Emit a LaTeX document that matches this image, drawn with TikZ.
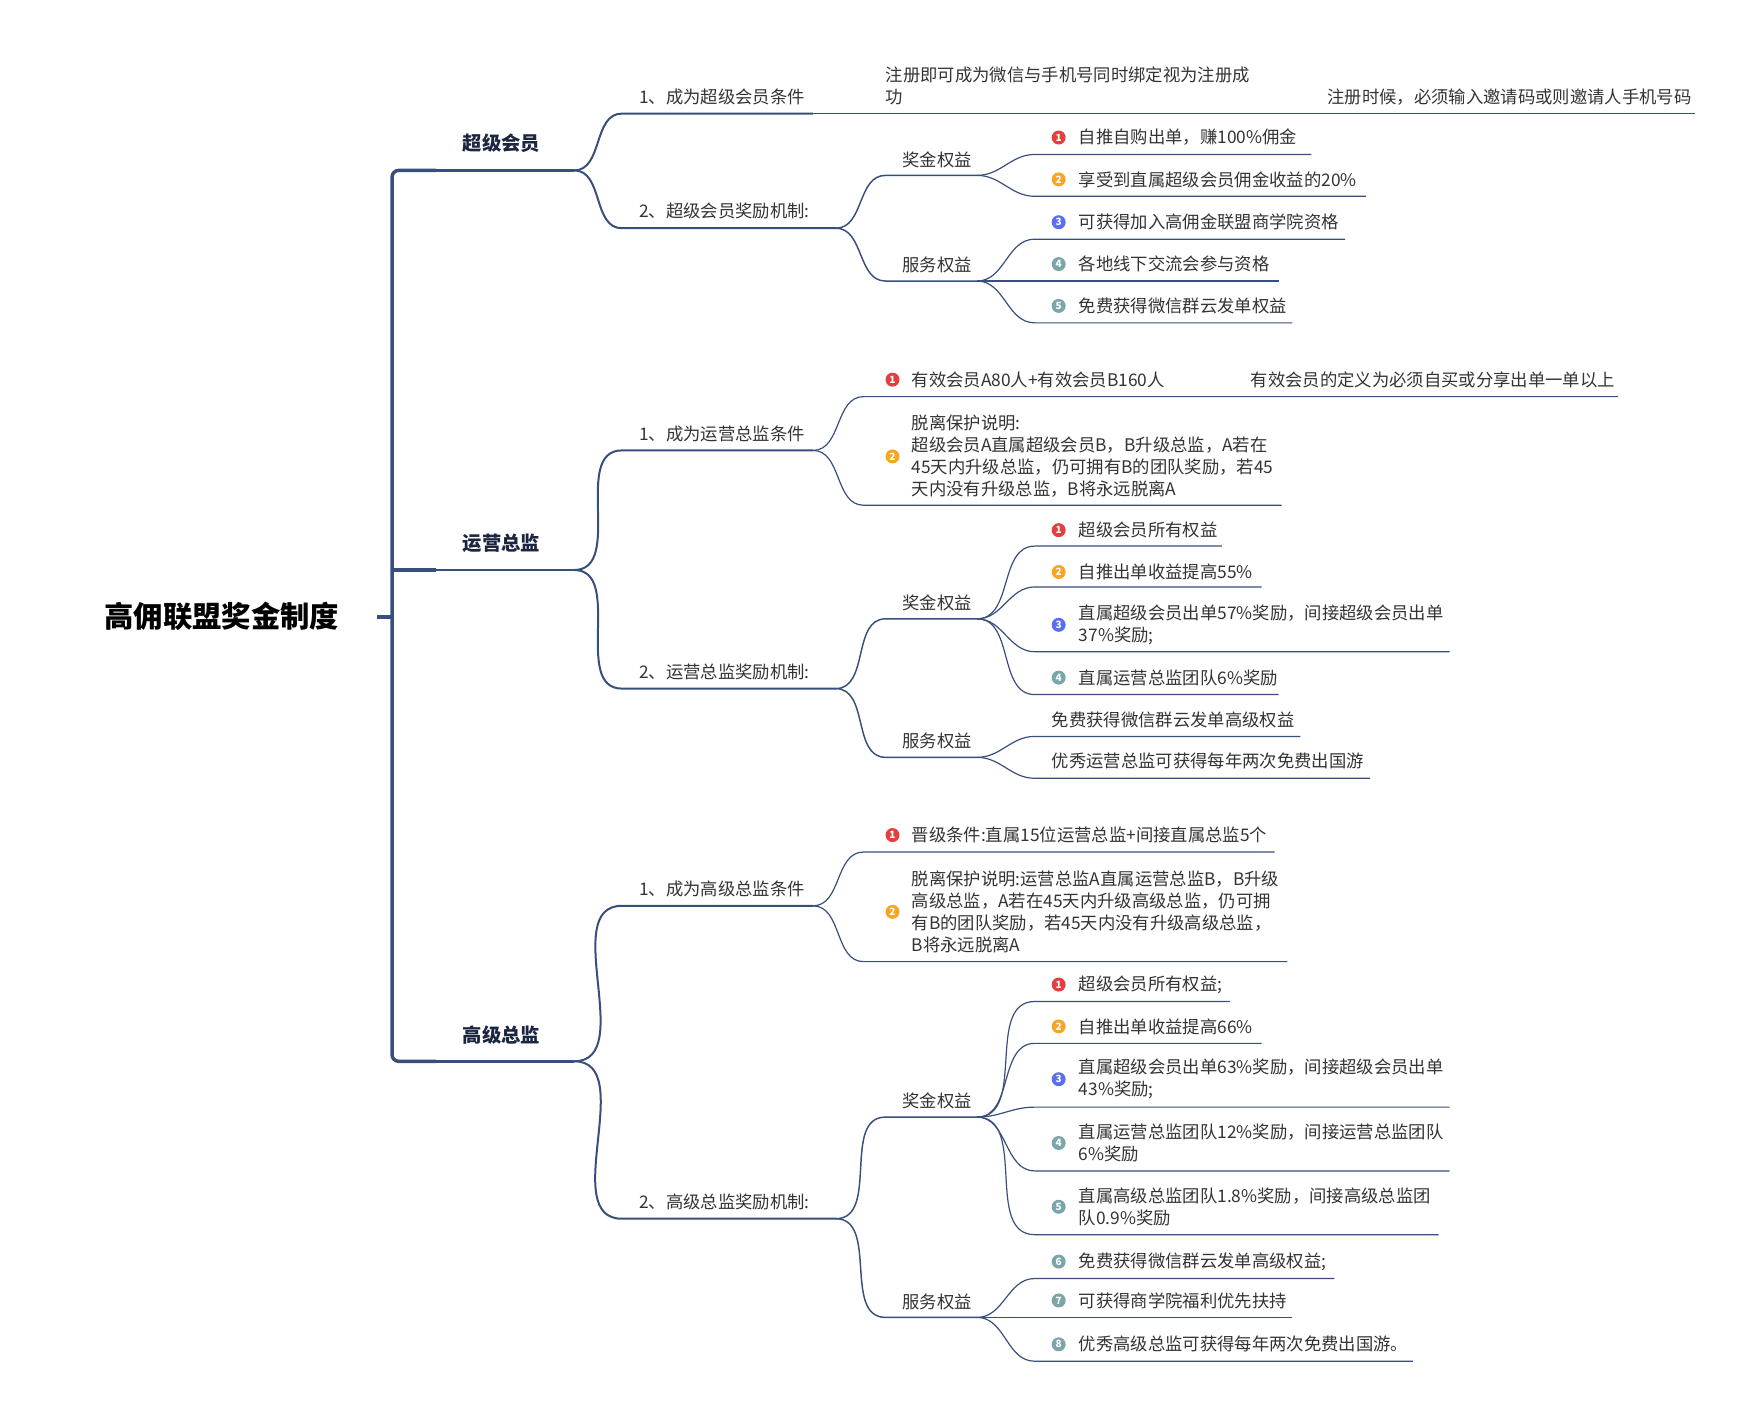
\documentclass[tikz,border=0pt]{standalone}
\usepackage{fontspec}
\setmainfont{Noto Sans CJK SC}
\usepackage{tikz}

\definecolor{linenavy}{RGB}{56,79,124}
\definecolor{textgray}{RGB}{51,51,51}
\definecolor{topicnavy}{RGB}{28,38,64}
\definecolor{dotred}{RGB}{229,62,62}
\definecolor{dotorange}{RGB}{245,166,35}
\definecolor{dotblue}{RGB}{90,110,240}
\definecolor{dotteal}{RGB}{122,166,170}

\tikzset{
  trunkline/.style={draw=linenavy, line width=2.6pt},
  lvone/.style={draw=linenavy, line width=1.9pt},
  lvtwo/.style={draw=linenavy, line width=1.5pt},
  lvthree/.style={draw=linenavy, line width=1.1pt},
  lvfour/.style={draw=linenavy, line width=0.9pt},
  roottxt/.style={font=\bfseries\fontsize{22}{26}\selectfont, text=black, inner sep=0pt},
  topic/.style={font=\bfseries\fontsize{14.5}{17}\selectfont, text=topicnavy, inner sep=0pt},
  subtopic/.style={font=\fontsize{13}{16.5}\selectfont, text=textgray, anchor=west, inner sep=0pt, align=left},
  numdot/.style={circle, fill=#1, text=white, inner sep=0pt, minimum size=10.5pt, font=\bfseries\fontsize{7.5}{7.5}\selectfont},
}

\begin{document}
\begin{tikzpicture}[x=0.75pt,y=-0.75pt]
\useasboundingbox (0,0) rectangle (1758,1422);
\begin{scope}[xscale=0.995, yscale=0.9965]

% root and trunk
\node[roottxt] (root) at (223,619) {高佣联盟奖金制度};
\coordinate (root-r) at (379,619);

\node[topic] (vip) at (504,144) {超级会员};
\node[topic] (ops) at (504,545) {运营总监};
\node[topic] (senior) at (504,1039) {高级总监};
\coordinate (vip-a) at (394,171);
\coordinate (vip-k) at (438,171);
\coordinate (vip-b) at (577,171);
\coordinate (ops-a) at (394,572);
\coordinate (ops-k) at (438,572);
\coordinate (ops-b) at (577,572);
\coordinate (senior-a) at (394,1065);
\coordinate (senior-k) at (438,1065);
\coordinate (senior-b) at (577,1065);

\draw[trunkline] (root-r) -- (root-r -| vip-a);
\draw[trunkline, rounded corners=5pt] (vip-k) -- (vip-a) -- (senior-a) -- (senior-k);
\draw[trunkline] (ops-a) -- (ops-k);
\draw[lvone] (vip-k) -- (vip-b);
\draw[lvone] (ops-k) -- (ops-b);
\draw[lvone] (senior-k) -- (senior-b);

% second level
\node[subtopic] (vipcond) at (642,97) {1、成为超级会员条件};
\coordinate (vipcond-a) at (625,114);
\coordinate (vipcond-b) at (817,114);
\node[subtopic] (vipaward) at (642,212) {2、超级会员奖励机制:};
\coordinate (vipaward-a) at (625,229);
\coordinate (vipaward-b) at (840,229);
\node[subtopic] (opscond) at (642,435) {1、成为运营总监条件};
\coordinate (opscond-a) at (625,452);
\coordinate (opscond-b) at (817,452);
\node[subtopic] (opsaward) at (642,674) {2、运营总监奖励机制:};
\coordinate (opsaward-a) at (625,691);
\coordinate (opsaward-b) at (840,691);
\node[subtopic] (srcond) at (642,892) {1、成为高级总监条件};
\coordinate (srcond-a) at (625,909);
\coordinate (srcond-b) at (817,909);
\node[subtopic] (sraward) at (642,1206) {2、高级总监奖励机制:};
\coordinate (sraward-a) at (625,1223);
\coordinate (sraward-b) at (840,1223);

\draw[lvtwo] (vip-b) to[out=0,in=180] (vipcond-a) -- (vipcond-b);
\draw[lvtwo] (vip-b) to[out=0,in=180] (vipaward-a) -- (vipaward-b);
\draw[lvtwo] (ops-b) to[out=0,in=180] (opscond-a) -- (opscond-b);
\draw[lvtwo] (ops-b) to[out=0,in=180] (opsaward-a) -- (opsaward-b);
\draw[lvtwo] (senior-b) to[out=0,in=180] (srcond-a) -- (srcond-b);
\draw[lvtwo] (senior-b) to[out=0,in=180] (sraward-a) -- (sraward-b);

% third level: bonus / service
\node[subtopic, anchor=center] (vipbonus) at (942,160) {奖金权益};
\coordinate (vipbonus-a) at (890,176);
\coordinate (vipbonus-b) at (982,176);
\node[subtopic, anchor=center] (vipserv) at (942,266) {服务权益};
\coordinate (vipserv-a) at (890,282);
\coordinate (vipserv-b) at (982,282);
\node[subtopic, anchor=center] (opsbonus) at (942,605) {奖金权益};
\coordinate (opsbonus-a) at (890,621);
\coordinate (opsbonus-b) at (982,621);
\node[subtopic, anchor=center] (opsserv) at (942,744) {服务权益};
\coordinate (opsserv-a) at (890,760);
\coordinate (opsserv-b) at (982,760);
\node[subtopic, anchor=center] (srbonus) at (942,1105) {奖金权益};
\coordinate (srbonus-a) at (890,1121);
\coordinate (srbonus-b) at (982,1121);
\node[subtopic, anchor=center] (srserv) at (942,1306) {服务权益};
\coordinate (srserv-a) at (890,1322);
\coordinate (srserv-b) at (982,1322);

\draw[lvthree] (vipaward-b) to[out=0,in=180] (vipbonus-a) -- (vipbonus-b);
\draw[lvthree] (vipaward-b) to[out=0,in=180] (vipserv-a) -- (vipserv-b);
\draw[lvthree] (opsaward-b) to[out=0,in=180] (opsbonus-a) -- (opsbonus-b);
\draw[lvthree] (opsaward-b) to[out=0,in=180] (opsserv-a) -- (opsserv-b);
\draw[lvthree] (sraward-b) to[out=0,in=180] (srbonus-a) -- (srbonus-b);
\draw[lvthree] (sraward-b) to[out=0,in=180] (srserv-a) -- (srserv-b);

% super member: condition
\node[subtopic] (vipreg) at (890,86) {注册即可成为微信与手机号同时绑定视为注册成\\功};
\coordinate (vipreg-b) at (1325,114);
\node[subtopic] (vipcode) at (1334,97) {注册时候，必须输入邀请码或则邀请人手机号码};
\coordinate (vipcode-b) at (1704,114);
\draw[lvfour] (vipcond-b) -- (vipreg-b) -- (vipcode-b);

% super member: bonus and service
\node[numdot=dotred] (vb1-n) at (1064,138) {1};
\node[subtopic] (vb1) at (1084,138) {自推自购出单，赚100\%佣金};
\coordinate (vb1-a) at (1040,155);
\coordinate (vb1-b) at (1318,155);
\node[numdot=dotorange] (vb2-n) at (1064,180) {2};
\node[subtopic] (vb2) at (1084,180) {享受到直属超级会员佣金收益的20\%};
\coordinate (vb2-a) at (1040,197);
\coordinate (vb2-b) at (1373,197);
\node[numdot=dotblue] (vs3-n) at (1064,223) {3};
\node[subtopic] (vs3) at (1084,223) {可获得加入高佣金联盟商学院资格};
\coordinate (vs3-a) at (1040,240);
\coordinate (vs3-b) at (1352,240);
\node[numdot=dotteal] (vs4-n) at (1064,265) {4};
\node[subtopic] (vs4) at (1084,265) {各地线下交流会参与资格};
\coordinate (vs4-a) at (1040,282);
\coordinate (vs4-b) at (1285,282);
\node[numdot=dotteal] (vs5-n) at (1064,307) {5};
\node[subtopic] (vs5) at (1084,307) {免费获得微信群云发单权益};
\coordinate (vs5-a) at (1040,324);
\coordinate (vs5-b) at (1299,324);

\draw[lvfour] (vipbonus-b) to[out=0,in=180] (vb1-a) -- (vb1-b);
\draw[lvfour] (vipbonus-b) to[out=0,in=180] (vb2-a) -- (vb2-b);
\draw[lvfour] (vipserv-b) to[out=0,in=180] (vs3-a) -- (vs3-b);
\draw[lvfour] (vipserv-b) to[out=0,in=180] (vs4-a) -- (vs4-b);
\draw[lvfour] (vipserv-b) to[out=0,in=180] (vs5-a) -- (vs5-b);

% operations director: condition
\node[numdot=dotred] (oc1-n) at (897,381) {1};
\node[subtopic] (oc1) at (916,381) {有效会员A80人+有效会员B160人};
\coordinate (oc1-a) at (868,398);
\coordinate (oc1-b) at (1240,398);
\node[subtopic] (ocnote) at (1257,381) {有效会员的定义为必须自买或分享出单一单以上};
\coordinate (ocnote-b) at (1626,398);
\node[numdot=dotorange] (oc2-n) at (897,458) {2};
\node[subtopic] (oc2) at (916,458) {脱离保护说明:\\超级会员A直属超级会员B，B升级总监，A若在\\45天内升级总监，仍可拥有B的团队奖励，若45\\天内没有升级总监，B将永远脱离A};
\coordinate (oc2-a) at (868,507);
\coordinate (oc2-b) at (1288,507);

\draw[lvfour] (opscond-b) to[out=0,in=180] (oc1-a) -- (oc1-b) -- (ocnote-b);
\draw[lvfour] (opscond-b) to[out=0,in=180] (oc2-a) -- (oc2-b);

% operations director: bonus and service
\node[numdot=dotred] (ob1-n) at (1064,532) {1};
\node[subtopic] (ob1) at (1084,532) {超级会员所有权益};
\coordinate (ob1-a) at (1040,548);
\coordinate (ob1-b) at (1228,548);
\node[numdot=dotorange] (ob2-n) at (1064,574) {2};
\node[subtopic] (ob2) at (1084,574) {自推出单收益提高55\%};
\coordinate (ob2-a) at (1040,589);
\coordinate (ob2-b) at (1268,589);
\node[numdot=dotblue] (ob3-n) at (1064,627) {3};
\node[subtopic] (ob3) at (1084,627) {直属超级会员出单57\%奖励，间接超级会员出单\\37\%奖励;};
\coordinate (ob3-a) at (1040,654);
\coordinate (ob3-b) at (1457,654);
\node[numdot=dotteal] (ob4-n) at (1064,680) {4};
\node[subtopic] (ob4) at (1084,680) {直属运营总监团队6\%奖励};
\coordinate (ob4-a) at (1040,697);
\coordinate (ob4-b) at (1285,697);
\node[subtopic] (os1) at (1057,722) {免费获得微信群云发单高级权益};
\coordinate (os1-a) at (1040,739);
\coordinate (os1-b) at (1307,739);
\node[subtopic] (os2) at (1057,764) {优秀运营总监可获得每年两次免费出国游};
\coordinate (os2-a) at (1040,781);
\coordinate (os2-b) at (1377,781);

\draw[lvfour] (opsbonus-b) to[out=0,in=180] (ob1-a) -- (ob1-b);
\draw[lvfour] (opsbonus-b) to[out=0,in=180] (ob2-a) -- (ob2-b);
\draw[lvfour] (opsbonus-b) to[out=0,in=180] (ob3-a) -- (ob3-b);
\draw[lvfour] (opsbonus-b) to[out=0,in=180] (ob4-a) -- (ob4-b);
\draw[lvfour] (opsserv-b) to[out=0,in=180] (os1-a) -- (os1-b);
\draw[lvfour] (opsserv-b) to[out=0,in=180] (os2-a) -- (os2-b);

% senior director: condition
\node[numdot=dotred] (sc1-n) at (897,838) {1};
\node[subtopic] (sc1) at (916,838) {晋级条件:直属15位运营总监+间接直属总监5个};
\coordinate (sc1-a) at (868,855);
\coordinate (sc1-b) at (1281,855);
\node[numdot=dotorange] (sc2-n) at (897,915) {2};
\node[subtopic] (sc2) at (916,915) {脱离保护说明:运营总监A直属运营总监B，B升级\\高级总监，A若在45天内升级高级总监，仍可拥\\有B的团队奖励，若45天内没有升级高级总监，\\B将永远脱离A};
\coordinate (sc2-a) at (868,965);
\coordinate (sc2-b) at (1294,965);

\draw[lvfour] (srcond-b) to[out=0,in=180] (sc1-a) -- (sc1-b);
\draw[lvfour] (srcond-b) to[out=0,in=180] (sc2-a) -- (sc2-b);

% senior director: bonus and service
\node[numdot=dotred] (sb1-n) at (1064,988) {1};
\node[subtopic] (sb1) at (1084,988) {超级会员所有权益;};
\coordinate (sb1-a) at (1040,1005);
\coordinate (sb1-b) at (1236,1005);
\node[numdot=dotorange] (sb2-n) at (1064,1030) {2};
\node[subtopic] (sb2) at (1084,1030) {自推出单收益提高66\%};
\coordinate (sb2-a) at (1040,1047);
\coordinate (sb2-b) at (1268,1047);
\node[numdot=dotblue] (sb3-n) at (1064,1083) {3};
\node[subtopic] (sb3) at (1084,1083) {直属超级会员出单63\%奖励，间接超级会员出单\\43\%奖励;};
\coordinate (sb3-a) at (1040,1111);
\coordinate (sb3-b) at (1457,1111);
\node[numdot=dotteal] (sb4-n) at (1064,1147) {4};
\node[subtopic] (sb4) at (1084,1147) {直属运营总监团队12\%奖励，间接运营总监团队\\6\%奖励};
\coordinate (sb4-a) at (1040,1175);
\coordinate (sb4-b) at (1457,1175);
\node[numdot=dotteal] (sb5-n) at (1064,1211) {5};
\node[subtopic] (sb5) at (1084,1211) {直属高级总监团队1.8\%奖励，间接高级总监团\\队0.9\%奖励};
\coordinate (sb5-a) at (1040,1239);
\coordinate (sb5-b) at (1446,1239);
\node[numdot=dotteal] (ss6-n) at (1064,1266) {6};
\node[subtopic] (ss6) at (1084,1266) {免费获得微信群云发单高级权益;};
\coordinate (ss6-a) at (1040,1283);
\coordinate (ss6-b) at (1341,1283);
\node[numdot=dotteal] (ss7-n) at (1064,1305) {7};
\node[subtopic] (ss7) at (1084,1305) {可获得商学院福利优先扶持};
\coordinate (ss7-a) at (1040,1322);
\coordinate (ss7-b) at (1299,1322);
\node[numdot=dotteal] (ss8-n) at (1064,1349) {8};
\node[subtopic] (ss8) at (1084,1349) {优秀高级总监可获得每年两次免费出国游。};
\coordinate (ss8-a) at (1040,1366);
\coordinate (ss8-b) at (1420,1366);

\draw[lvfour] (srbonus-b) to[out=0,in=180] (sb1-a) -- (sb1-b);
\draw[lvfour] (srbonus-b) to[out=0,in=180] (sb2-a) -- (sb2-b);
\draw[lvfour] (srbonus-b) to[out=0,in=180] (sb3-a) -- (sb3-b);
\draw[lvfour] (srbonus-b) to[out=0,in=180] (sb4-a) -- (sb4-b);
\draw[lvfour] (srbonus-b) to[out=0,in=180] (sb5-a) -- (sb5-b);
\draw[lvfour] (srserv-b) to[out=0,in=180] (ss6-a) -- (ss6-b);
\draw[lvfour] (srserv-b) to[out=0,in=180] (ss7-a) -- (ss7-b);
\draw[lvfour] (srserv-b) to[out=0,in=180] (ss8-a) -- (ss8-b);
\end{scope}
\end{tikzpicture}
\end{document}
